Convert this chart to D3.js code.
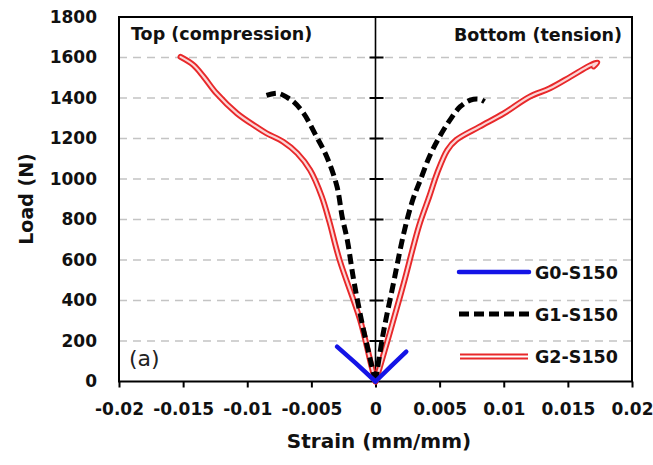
<!DOCTYPE html>
<html>
<head>
<meta charset="utf-8">
<script src="https://cdn.jsdelivr.net/npm/d3@7"></script>
<style>
  body { margin: 0; background: #fff; }
  text { font-family: "DejaVu Sans", sans-serif; }
</style>
</head>
<body>
<svg width="653" height="465"></svg>
<script>
var width = 653, height = 465

// tick values
var xTicks = [-0.02, -0.015, -0.01, -0.005, 0, 0.005, 0.01, 0.015, 0.02]
var yTicks = [0, 200, 400, 600, 800, 1000, 1200, 1400, 1600, 1800]

// [strain, load]
var g0Top = [[0, 0], [-0.0015, 88], [-0.0030, 172]]
var g0Bottom = [[0, 0], [0.0012, 75], [0.0024, 147]]

var g1Top = [[0, 0], [-0.0004, 106], [-0.0011, 304], [-0.0017, 501], [-0.0022, 699],
  [-0.0026, 814], [-0.0030, 962], [-0.0038, 1110], [-0.0046, 1209], [-0.0056, 1324],
  [-0.0064, 1382], [-0.0069, 1403], [-0.0076, 1423], [-0.0085, 1413]]
var g1Bottom = [[0, 0], [0.0006, 237], [0.0014, 485], [0.0022, 731], [0.0029, 896],
  [0.0035, 995], [0.0042, 1110], [0.0050, 1209], [0.0058, 1291], [0.0066, 1357],
  [0.0074, 1390], [0.0081, 1394], [0.0085, 1382]]

var g2Top = [[0, 0], [-0.0003, 73], [-0.0012, 304], [-0.0028, 600], [-0.0036, 790],
  [-0.0042, 915], [-0.0051, 1044], [-0.0061, 1127], [-0.0072, 1184], [-0.0085, 1226],
  [-0.0093, 1258], [-0.0108, 1324], [-0.0124, 1423], [-0.0134, 1505], [-0.0142, 1563],
  [-0.0152, 1603]]
var g2Bottom = [[0, 0], [0.00035, 73], [0.0011, 237], [0.0022, 485], [0.0034, 770],
  [0.0042, 915], [0.0048, 1028], [0.0056, 1143], [0.0063, 1193], [0.0081, 1258],
  [0.0100, 1324], [0.0120, 1406], [0.0136, 1448], [0.0152, 1505], [0.0167, 1560],
  [0.0173, 1575], [0.0170, 1556]]

var seriesNames = ["G0-S150", "G1-S150", "G2-S150"]

// plot box (window.top is reserved, so no bare "top")
var pLeft = 119, pRight = 632, pTop = 17, pBottom = 381.5

var x = d3.scaleLinear().domain([-0.02, 0.02]).range([pLeft, pRight])
var y = d3.scaleLinear().domain([0, 1800]).range([pBottom, pTop])

var svg = d3.select('svg')

// grid lines
svg.append('g')
  .selectAll('line')
  .data(yTicks.filter(function(d) { return d > 0 && d < 1800 }))
  .join('line')
  .attr('x1', pLeft)
  .attr('x2', pRight)
  .attr('y1', function(d) { return y(d) })
  .attr('y2', function(d) { return y(d) })
  .attr('stroke', '#c4c4c4')
  .attr('stroke-width', 1.3)
  .attr('stroke-dasharray', '8,6')

// y labels on the left
var yAxis = svg.append('g')
  .attr('transform', 'translate(' + pLeft + ',0)')
  .call(d3.axisLeft(y).tickValues(yTicks).tickSize(0).tickPadding(22)
    .tickFormat(function(d) { return String(d) }))
yAxis.select('.domain').remove()
yAxis.selectAll('text')
  .attr('font-family', 'DejaVu Sans')
  .attr('font-size', 17)
  .attr('font-weight', 'bold')
  .attr('fill', '#111')

// x axis at the bottom
var xAxis = svg.append('g')
  .attr('transform', 'translate(0,' + pBottom + ')')
  .call(d3.axisBottom(x).tickValues(xTicks).tickSize(6).tickPadding(15)
    .tickFormat(function(d) { return d === 0 ? '0' : String(d) }))
xAxis.select('.domain').remove()
xAxis.selectAll('line').attr('stroke', '#000').attr('stroke-width', 2)
xAxis.selectAll('text')
  .attr('font-family', 'DejaVu Sans')
  .attr('font-size', 17)
  .attr('font-weight', 'bold')
  .attr('fill', '#111')

// vertical axis line at strain 0 with crossing ticks
svg.append('line')
  .attr('x1', x(0)).attr('x2', x(0))
  .attr('y1', pTop).attr('y2', pBottom)
  .attr('stroke', '#000').attr('stroke-width', 1.6)
svg.append('g')
  .selectAll('line')
  .data(yTicks.filter(function(d) { return d > 0 }))
  .join('line')
  .attr('x1', x(0) - 6)
  .attr('x2', x(0) + 8)
  .attr('y1', function(d) { return y(d) })
  .attr('y2', function(d) { return y(d) })
  .attr('stroke', '#000')
  .attr('stroke-width', 2)

// plot border
svg.append('rect')
  .attr('x', pLeft).attr('y', pTop)
  .attr('width', pRight - pLeft).attr('height', pBottom - pTop)
  .attr('fill', 'none')
  .attr('stroke', '#000')
  .attr('stroke-width', 2)

var line = d3.line()
  .x(function(d) { return x(d[0]) })
  .y(function(d) { return y(d[1]) })

var lineFree = d3.line()
  .x(function(d) { return x(d[0]) })
  .y(function(d) { return y(d[1]) })
  .curve(d3.curveCatmullRom)

// G2: red double line
;[g2Top, g2Bottom].forEach(function(data) {
  svg.append('path').attr('d', lineFree(data))
    .attr('fill', 'none').attr('stroke', '#e8282a').attr('stroke-width', 6)
    .attr('stroke-linejoin', 'round').attr('stroke-linecap', 'round')
  svg.append('path').attr('d', lineFree(data))
    .attr('fill', 'none').attr('stroke', '#fbd6d6').attr('stroke-width', 2.2)
    .attr('stroke-linejoin', 'round').attr('stroke-linecap', 'round')
})

// G1: black dashed
;[g1Top, g1Bottom].forEach(function(data) {
  svg.append('path').attr('d', lineFree(data))
    .attr('fill', 'none').attr('stroke', '#000').attr('stroke-width', 5)
    .attr('stroke-dasharray', '10,5')
})

// G0: blue
;[g0Top, g0Bottom].forEach(function(data) {
  svg.append('path').attr('d', line(data))
    .attr('fill', 'none').attr('stroke', '#1414e6').attr('stroke-width', 4.5)
    .attr('stroke-linecap', 'round')
})

// legend
var legY = [272, 314, 356.5]
var leg = svg.append('g')
leg.append('line')
  .attr('x1', 459).attr('x2', 529).attr('y1', legY[0]).attr('y2', legY[0])
  .attr('stroke', '#1414e6').attr('stroke-width', 4.5).attr('stroke-linecap', 'round')
leg.append('line')
  .attr('x1', 459).attr('x2', 530).attr('y1', legY[1]).attr('y2', legY[1])
  .attr('stroke', '#000').attr('stroke-width', 5).attr('stroke-dasharray', '10,5')
leg.append('line')
  .attr('x1', 460).attr('x2', 528).attr('y1', legY[2]).attr('y2', legY[2])
  .attr('stroke', '#e8282a').attr('stroke-width', 6)
leg.append('line')
  .attr('x1', 460).attr('x2', 528).attr('y1', legY[2]).attr('y2', legY[2])
  .attr('stroke', '#fff').attr('stroke-width', 2.2)
leg.selectAll('text')
  .data(seriesNames)
  .join('text')
  .attr('x', 535)
  .attr('y', function(d, i) { return legY[i] + 6.5 })
  .attr('font-size', 17.5)
  .attr('font-weight', 'bold')
  .attr('fill', '#111')
  .text(function(d) { return d })

// annotations
svg.append('text')
  .attr('x', 131).attr('y', 40)
  .attr('font-size', 17.5).attr('font-weight', 'bold').attr('fill', '#111')
  .text('Top (compression)')
svg.append('text')
  .attr('x', 622).attr('y', 41)
  .attr('text-anchor', 'end')
  .attr('font-size', 17.5).attr('font-weight', 'bold').attr('fill', '#111')
  .text('Bottom (tension)')
svg.append('text')
  .attr('x', 129).attr('y', 366)
  .attr('font-size', 22).attr('fill', '#222')
  .text('(a)')

// axis titles
svg.append('text')
  .attr('x', 379).attr('y', 448)
  .attr('text-anchor', 'middle')
  .attr('font-size', 20).attr('font-weight', 'bold').attr('fill', '#111')
  .text('Strain (mm/mm)')
svg.append('text')
  .attr('transform', 'translate(33,199) rotate(-90)')
  .attr('text-anchor', 'middle')
  .attr('font-size', 19).attr('font-weight', 'bold').attr('fill', '#111')
  .text('Load (N)')
</script>
</body>
</html>
